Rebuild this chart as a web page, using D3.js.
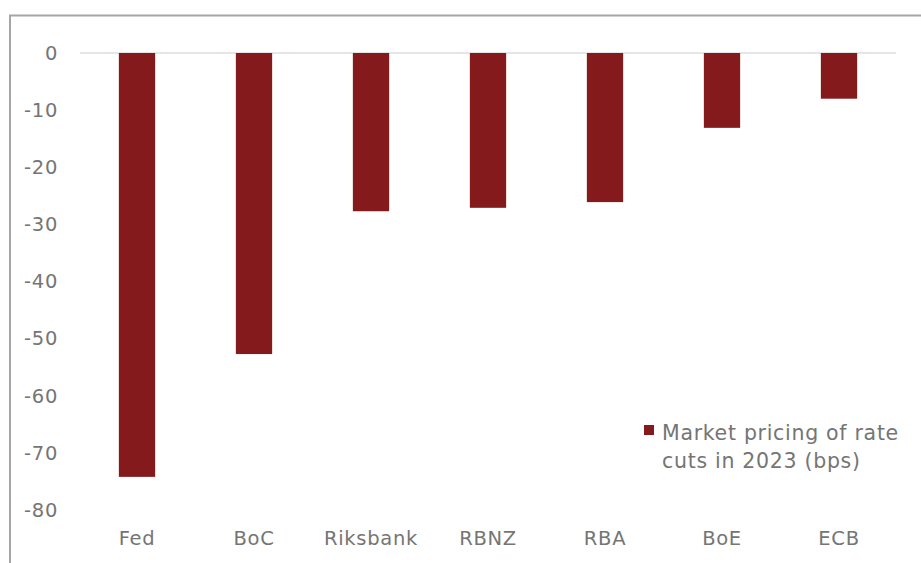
<!DOCTYPE html>
<html><head><meta charset="utf-8">
<script src="https://cdn.jsdelivr.net/npm/d3@7"></script>
<style>body{margin:0;background:#fff}svg{display:block}</style>
</head><body>
<svg id="c" width="921" height="563"></svg>
<script>
const categories = ["Fed","BoC","Riksbank","RBNZ","RBA","BoE","ECB"];
const values = [-74.2,-52.7,-27.7,-27.1,-26.1,-13.1,-8.0];
const yTicks = [0,-10,-20,-30,-40,-50,-60,-70,-80];
const legendLines = ["Market pricing of rate","cuts in 2023 (bps)"];

const svg = d3.select("#c");
const font = "'DejaVu Sans', sans-serif";
const textColor = "#757575";
const barColor = "#841a1c";
const ls = "0.7px";

// frame
svg.append("path").attr("d","M10,563 V15.5 H921").attr("fill","none").attr("stroke","#a6a6a6").attr("stroke-width",2);

const x = d3.scaleBand().domain(categories).range([78.5,897.5]).paddingInner(0.69).paddingOuter(0.345);
const y = d3.scaleLinear().domain([0,-80]).range([53,510]);

// zero gridline
svg.append("line").attr("x1",80).attr("x2",896).attr("y1",y(0)).attr("y2",y(0)).attr("stroke","#e6e6e6").attr("stroke-width",2);

svg.selectAll("rect.bar").data(values).join("rect").attr("class","bar")
  .attr("x",(d,i)=>x(categories[i])).attr("width",x.bandwidth())
  .attr("y",y(0)).attr("height",d=>y(d)-y(0)).attr("fill",barColor);

const yAxis = d3.axisLeft(y).tickValues(yTicks).tickSize(0).tickPadding(0).tickFormat(d=>String(d));
const ya = svg.append("g").attr("transform","translate(58,0)").call(yAxis);
ya.select(".domain").remove();
ya.selectAll("text").attr("font-family",font).attr("font-size",19.5).attr("fill",textColor).attr("letter-spacing",ls);

const xAxis = d3.axisBottom(x).tickSize(0).tickPadding(0);
const xa = svg.append("g").attr("transform","translate(0,531)").call(xAxis);
xa.select(".domain").remove();
xa.selectAll("text").attr("font-family",font).attr("font-size",19.5).attr("fill",textColor).attr("letter-spacing",ls);

// legend
svg.append("rect").attr("x",644).attr("y",425).attr("width",10).attr("height",10).attr("fill",barColor);
svg.selectAll("text.leg").data(legendLines).join("text").attr("class","leg")
  .attr("x",662).attr("y",(d,i)=>440+i*28).text(d=>d)
  .attr("font-family",font).attr("font-size",20.5).attr("fill",textColor).attr("letter-spacing",ls);
</script>
</body></html>
